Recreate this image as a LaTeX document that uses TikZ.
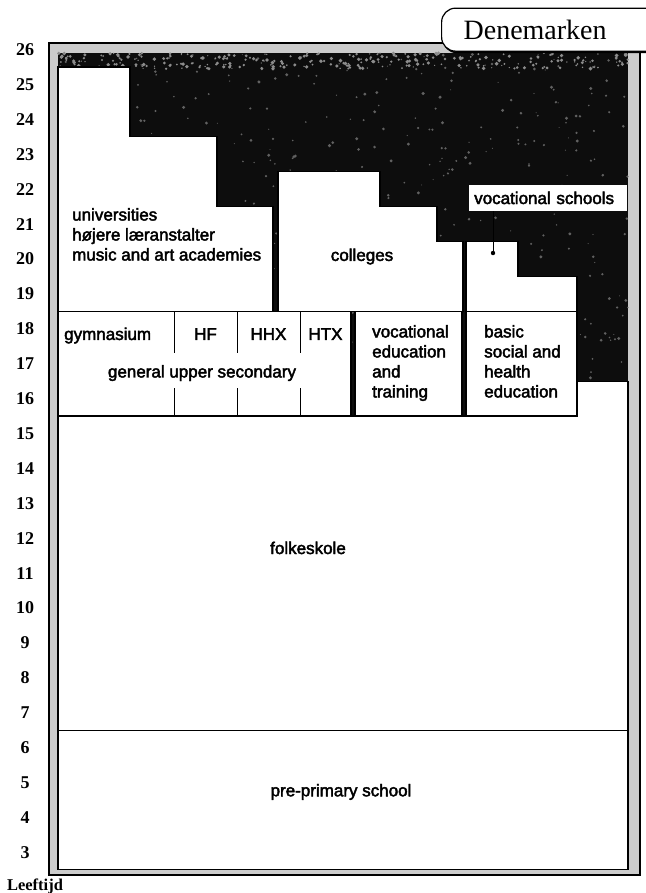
\documentclass[tikz,border=0pt]{standalone}
\usepackage{fontspec}
\setmainfont{Liberation Serif}
\newfontfamily\boxfont{Liberation Sans}[FakeBold=2.5]
\usepackage{tikz}
\usetikzlibrary{calc, positioning, backgrounds, shadows}
\tikzstyle{box}=[draw, fill=white, line width=1.2pt]
\tikzstyle{lbl}=[font=\boxfont\fontsize{17}{20}\selectfont, inner sep=0pt, align=left]
\tikzstyle{age}=[font=\bfseries\fontsize{18}{20}\selectfont, inner sep=0pt]
\tikzstyle{dark}=[fill=black!95]
\tikzstyle{band}=[fill=gray!40, draw, line width=1.4pt]

\begin{document}
\begin{tikzpicture}[x=1pt, y=34.9pt]
\useasboundingbox (0,1.833) rectangle (645,27.42);
% the frame and the dark background
\draw[band] (49,2.35) rectangle (640,26.19);
\fill[dark] (58,2.5) rectangle (628,25.9);
% some grey mottling in the dark part
\pgfmathsetseed{7}
\foreach \i in {1,...,500} {
  \pgfmathsetmacro{\r}{0.5+1.2*rnd}
  \fill[black!62] ({58+570*rnd},{16.5+9.4*rnd}) circle (\r pt);
}
\foreach \i in {1,...,300} {
  \pgfmathsetmacro{\r}{0.6+1.4*rnd}
  \fill[black!45] ({58+570*rnd},{25.45+0.45*rnd}) circle (\r pt);
}
% the higher education
\draw[box] (58,18.5) -- (58,25.5) -- (130,25.5) -- (130,23.5) -- (217,23.5) -- (217,21.5) -- (273,21.5) -- (273,18.5) -- cycle;
\draw[box] (278,18.5) -- (278,22.5) -- (380,22.5) -- (380,21.5) -- (437,21.5) -- (437,20.5) -- (463,20.5) -- (463,18.5) -- cycle;
\draw[box] (466,18.5) -- (466,20.5) -- (518,20.5) -- (518,19.5) -- (577,19.5) -- (577,18.5) -- cycle;
% the upper secondary
\draw[box] (58,15.5) rectangle (351,18.5);
\draw[box] (355,15.5) rectangle (462,18.5);
\draw[box] (466,15.5) rectangle (577,18.5);
\foreach \x in {174, 237, 300} {
  \draw[thin] (\x,18.5) -- (\x,17.3);
  \draw[thin] (\x,16.3) -- (\x,15.5);
}
% the folkeskole and pre-primary
\draw[box] (58,6.5) -- (58,15.5) -- (577,15.5) -- (577,16.5) -- (628,16.5) -- (628,6.5) -- cycle;
\draw[box] (58,2.5) rectangle (628,6.5);
%
% the labels
\node[lbl, anchor=north west] (univ) at (72,21.46) {universities\\højere læranstalter\\music and art academies};
\node[lbl] (coll) at (362,20.07) {colleges};
\node[lbl, fill=white, anchor=south west, minimum height=26pt, text width=148pt, inner xsep=5pt] (vocsch) at (469,21.37) {vocational schools};
\node[lbl, anchor=base west] (gym) at (64,17.68) {gymnasium};
\node[lbl, anchor=base] (hf) at (205.5,17.68) {HF};
\node[lbl, anchor=base] (hhx) at (268.5,17.68) {HHX};
\node[lbl, anchor=base] (htx) at (325.5,17.68) {HTX};
\node[lbl] (gus) at (202,16.73) {general upper secondary};
\node[lbl, anchor=north west] (vet) at (372,18.11) {vocational\\education\\and\\training};
\node[lbl, anchor=north west] (shed) at (484,18.11) {basic\\social and\\health\\education};
\node[lbl] (folk) at (308,11.72) {folkeskole};
\node[lbl] (pre) at (341,4.73) {pre-primary school};
% the pointer of the vocational schools
\coordinate (vsdot) at (493,20.17);
\draw[thick] (vsdot) -- (vsdot |- vocsch.south);
\fill (vsdot) circle (2.2pt);
% the ages
\foreach \a in {3,...,26} {
  \node[age] (a\a) at (25,\a) {\a};
}
\node[age, font=\bfseries\fontsize{16.5}{18}\selectfont] (leeftijd) at (35,2.03) {Leeftijd};
% the country
\node[draw, fill=white, line width=1.2pt, rounded corners=14pt, anchor=west, text width=200pt, inner xsep=22pt, minimum height=43pt, align=left, font=\fontsize{28}{30}\selectfont, drop shadow={opacity=1, fill=black, shadow xshift=1pt, shadow yshift=-2pt}] (land) at (441,26.57) {Denemarken};
\end{tikzpicture}
\end{document}
